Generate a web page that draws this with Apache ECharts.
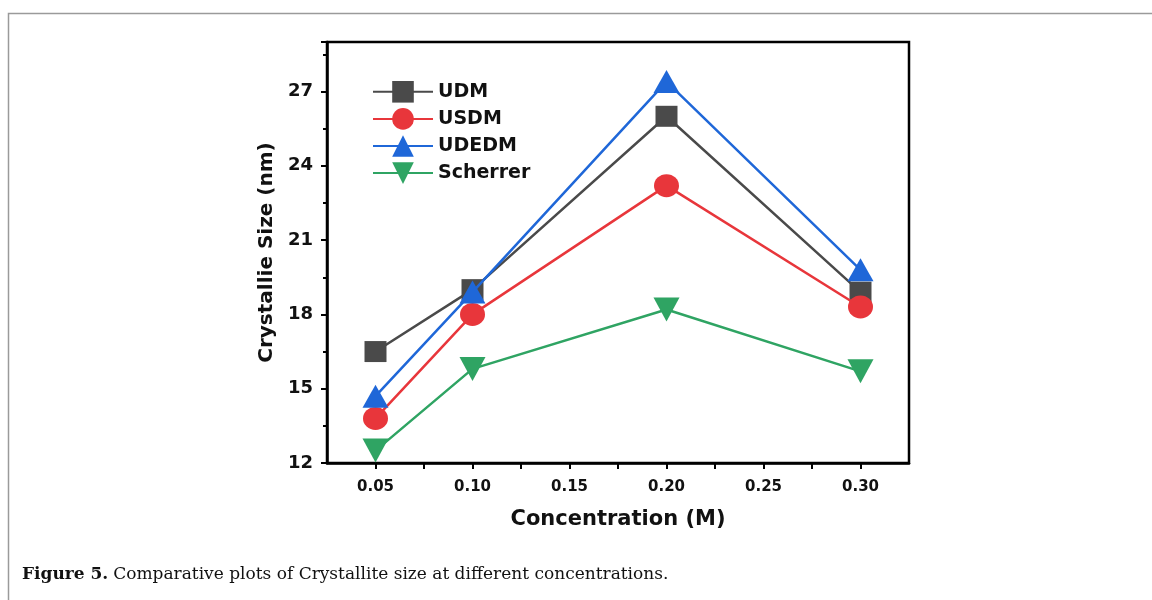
<!DOCTYPE html>
<html>
<head>
<meta charset="utf-8">
<script src="https://cdn.jsdelivr.net/npm/echarts@6/dist/echarts.min.js"></script>
<style>
  html, body { margin: 0; padding: 0; background: #fff; }
  #chart { width: 1152px; height: 600px; }
</style>
</head>
<body>
<div id="chart"></div>
<script>
// Concentration (M) and crystallite sizes (nm) from each method
const concentrations = [0.05, 0.10, 0.20, 0.30];
const udm = [16.5, 19.0, 26.0, 18.9];
const usdm = [13.8, 18.0, 23.2, 18.3];
const udedm = [14.7, 18.9, 27.4, 19.8];
const scherrer = [12.5, 15.8, 18.2, 15.7];

const seriesNames = ['UDM', 'USDM', 'UDEDM', 'Scherrer'];
const seriesColors = ['#4a4a4a', '#e8363b', '#1f67d8', '#2fa463'];
const seriesSymbols = ['rect', 'circle', 'triangle', 'path://M0,0 L2,0 L1,1.8 Z'];
const seriesSizes = [[22, 21], [25, 23], [26, 23], [26, 24]];
const seriesValues = [udm, usdm, udedm, scherrer];

const xTickLabels = ['0.05', '0.10', '0.15', '0.20', '0.25', '0.30'];
const yTickLabels = ['12', '15', '18', '21', '24', '27'];

const chart = echarts.init(document.getElementById('chart'));

const series = seriesNames.map((name, i) => ({
  name: name,
  type: 'line',
  data: concentrations.map((c, j) => [c, seriesValues[i][j]]),
  symbol: seriesSymbols[i],
  symbolSize: seriesSizes[i],
  showAllSymbol: true,
  z: 2 + i,
  itemStyle: { color: seriesColors[i], opacity: 1 },
  lineStyle: { color: seriesColors[i], width: 2.5 },
  emphasis: { disabled: true },
  animation: false
}));

const boldFont = 'DejaVu Sans, Liberation Sans, Arial, sans-serif';
const serifFont = 'DejaVu Serif, Liberation Serif, serif';

chart.setOption({
  animation: false,
  backgroundColor: '#fff',
  grid: {
    left: 327, top: 42, right: 243, bottom: 137,
    show: true, borderColor: '#000', borderWidth: 2.5,
    containLabel: false
  },
  legend: {
    left: 367, top: 76,
    orient: 'vertical',
    itemWidth: 60, itemHeight: 27, itemGap: 5.5,
    textStyle: { fontFamily: boldFont, fontWeight: 'bold', fontSize: 19, color: '#111' },
    data: seriesNames.map(n => ({ name: n })),
    selectedMode: false
  },
  xAxis: {
    type: 'value',
    min: 0.025, max: 0.325, interval: 0.025,
    name: 'Concentration (M)',
    nameLocation: 'middle', nameGap: 46,
    nameTextStyle: { fontFamily: boldFont, fontWeight: 'bold', fontSize: 21, color: '#111' },
    axisLine: { onZero: false, lineStyle: { color: '#000', width: 2.5 } },
    axisTick: { show: true, inside: false, length: 6, lineStyle: { color: '#000', width: 2 } },
    axisLabel: {
      fontFamily: boldFont, fontWeight: 'bold', fontSize: 15, color: '#111', margin: 17,
      showMinLabel: false, showMaxLabel: false,
      formatter: v => {
        const k = Math.round(v / 0.025);
        if (k % 2 !== 0) return '';
        return xTickLabels[k / 2 - 1] || '';
      }
    },
    splitLine: { show: false }
  },
  yAxis: {
    type: 'value',
    min: 12, max: 29, interval: 3,
    name: 'Crystallie Size (nm)',
    nameLocation: 'middle', nameGap: 50, nameRotate: 90,
    nameTextStyle: { fontFamily: boldFont, fontWeight: 'bold', fontSize: 20, color: '#111' },
    axisLine: { lineStyle: { color: '#000', width: 2.5 } },
    axisTick: { show: true, inside: false, length: 6, lineStyle: { color: '#000', width: 2 } },
    minorTick: { show: true, splitNumber: 2, length: 4, lineStyle: { color: '#000', width: 2 } },
    axisLabel: {
      fontFamily: boldFont, fontWeight: 'bold', fontSize: 18, color: '#111', margin: 14,
      showMaxLabel: false,
      formatter: v => yTickLabels[Math.round((v - 12) / 3)] || ''
    },
    splitLine: { show: false }
  },
  title: {
    left: 17, top: 561,
    text: '{b|Figure 5.} {n|Comparative plots of Crystallite size at different concentrations.}',
    textStyle: {
      rich: {
        b: { fontFamily: serifFont, fontWeight: 'bold', fontSize: 17, color: '#111' },
        n: { fontFamily: serifFont, fontWeight: 'normal', fontSize: 17, color: '#111' }
      }
    }
  },
  graphic: [
    {
      type: 'polyline',
      shape: { points: [[8.5, 600], [8.5, 13.5], [1152, 13.5]] },
      style: { stroke: '#9a9a9a', lineWidth: 1.5, fill: null },
      silent: true
    }
  ],
  series: series
});
</script>
</body>
</html>
